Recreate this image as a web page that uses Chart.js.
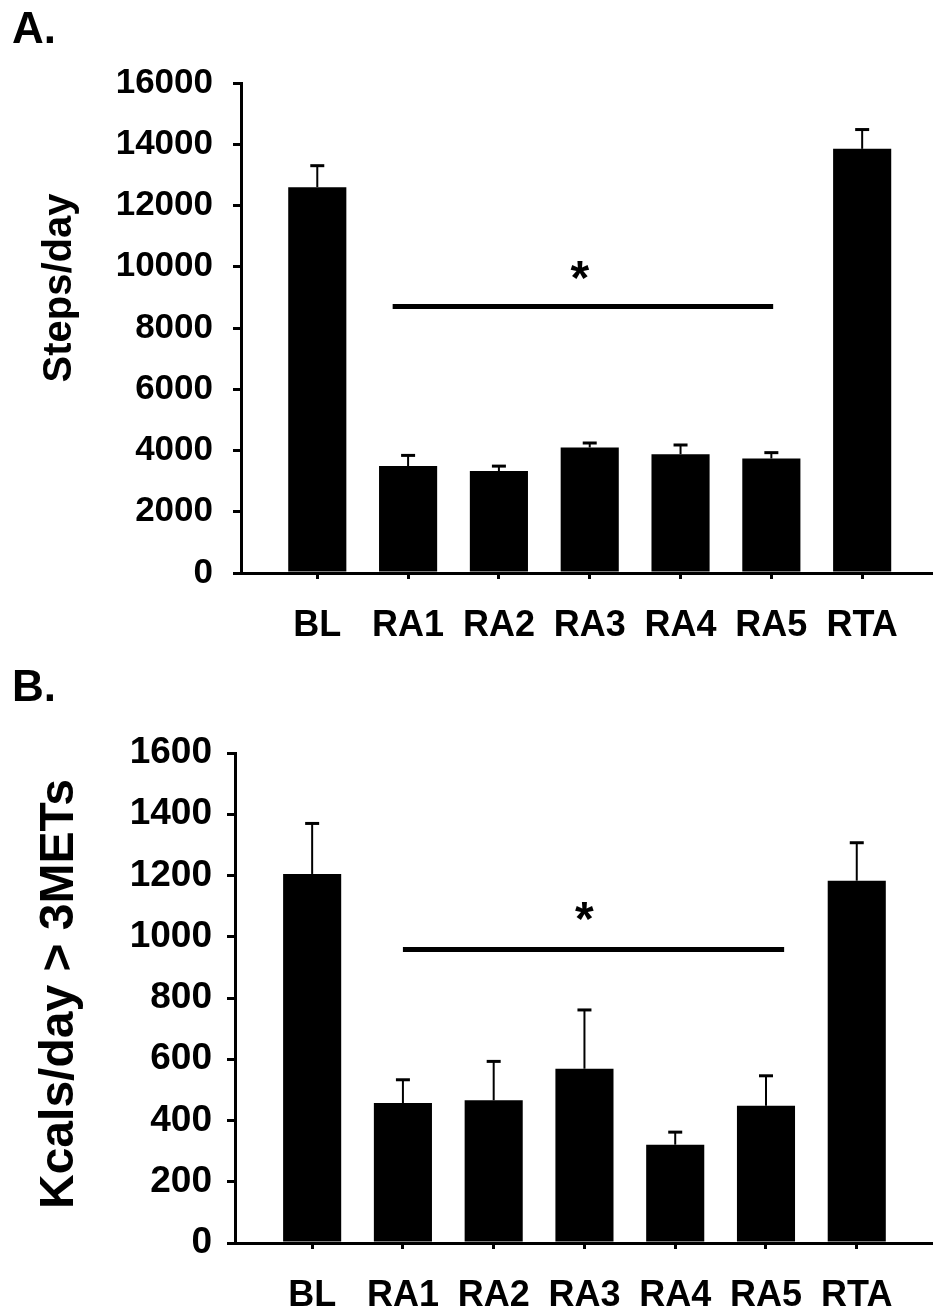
<!DOCTYPE html>
<html>
<head>
<meta charset="utf-8">
<script src="https://cdn.jsdelivr.net/npm/chart.js@4.4.1/dist/chart.umd.min.js"></script>
<style>
  html, body { margin: 0; padding: 0; background: #fff; }
  #wrap { position: relative; width: 933px; height: 1314px; }
  canvas { position: absolute; left: 0; }
  #chartA { top: 0; }
  #chartB { top: 660px; }
</style>
</head>
<body>
<div id="wrap">
  <canvas id="chartA" width="933" height="660"></canvas>
  <canvas id="chartB" width="933" height="654"></canvas>
</div>
<script>
// Categories shared by both panels
const categories = ['BL', 'RA1', 'RA2', 'RA3', 'RA4', 'RA5', 'RTA'];

// Panel A: steps per day (mean + SE)
const stepsMeans = [12600, 3490, 3330, 4100, 3880, 3740, 13850];
const stepsErrors = [700, 350, 160, 145, 300, 190, 630];
const stepsAxis = { max: 16000, step: 2000 };
const stepsSig = { from: 0.83, to: 5.02, level: 8700, starX: 2.89, starY: 10000 };

// Panel B: kcals/day above 3 METs (mean + SE)
const kcalMeans = [1205, 457, 466, 569, 321, 448, 1183];
const kcalErrors = [165, 76, 127, 192, 41, 98, 124];
const kcalAxis = { max: 1600, step: 200 };
const kcalSig = { from: 1.0, to: 5.2, level: 958, starX: 3.0, starY: 1096 };

const FONT = "'Liberation Sans', Arial, sans-serif";

function drawExtras(p) {
    return {
        id: 'extras_' + p.letter,
        afterDatasetsDraw(chart) {
            const ctx = chart.ctx;
            const xs = chart.scales.x, ys = chart.scales.y;
            const meta = chart.getDatasetMeta(0);
            ctx.save();
            ctx.strokeStyle = '#000';
            ctx.fillStyle = '#000';

            // error bars (upper only)
            p.errors.forEach((err, i) => {
                const bx = meta.data[i].x;
                const yTop = ys.getPixelForValue(p.means[i]);
                const yErr = ys.getPixelForValue(p.means[i] + err);
                ctx.lineWidth = 2;
                ctx.beginPath(); ctx.moveTo(bx, yTop); ctx.lineTo(bx, yErr); ctx.stroke();
                ctx.lineWidth = 3;
                ctx.beginPath(); ctx.moveTo(bx - 7, yErr); ctx.lineTo(bx + 7, yErr); ctx.stroke();
            });

            // significance line + asterisk
            const sy = ys.getPixelForValue(p.sig.level);
            ctx.lineWidth = 5;
            ctx.beginPath();
            ctx.moveTo(xs.getPixelForValue(p.sig.from), sy);
            ctx.lineTo(xs.getPixelForValue(p.sig.to), sy);
            ctx.stroke();
            ctx.font = 'bold 48px ' + FONT;
            ctx.textAlign = 'center';
            ctx.textBaseline = 'alphabetic';
            ctx.fillText('*', xs.getPixelForValue(p.sig.starX), ys.getPixelForValue(p.sig.starY) + 0.57 * 48);

            // rotated y title
            ctx.save();
            ctx.translate(p.titleX, p.titleY);
            ctx.rotate(-Math.PI / 2);
            ctx.font = 'bold ' + p.titleSize + 'px ' + FONT;
            ctx.textBaseline = 'middle';
            ctx.fillText(p.title, 0, 0);
            ctx.restore();

            // panel letter
            ctx.font = 'bold 44px ' + FONT;
            ctx.textAlign = 'left';
            ctx.textBaseline = 'alphabetic';
            ctx.fillText(p.letter + '.', 12, p.letterY);
            ctx.restore();
        }
    };
}

function renderPanel(canvasId, p) {
    const ctx = document.getElementById(canvasId).getContext('2d');
    return new Chart(ctx, {
        type: 'bar',
        data: {
            datasets: [{
                data: p.means.map((v, i) => ({ x: i, y: v })),
                backgroundColor: '#000',
                borderWidth: 0,
                barPercentage: 0.64,
                categoryPercentage: 1
            }]
        },
        options: {
            responsive: false,
            devicePixelRatio: 1,
            animation: false,
            layout: { padding: { top: p.padTop, left: 0, right: 0, bottom: 0 } },
            plugins: { legend: { display: false }, tooltip: { enabled: false } },
            scales: {
                x: {
                    type: 'linear',
                    min: p.xMin,
                    max: p.xMax,
                    offset: false,
                    afterBuildTicks: axis => { axis.ticks = categories.map((_, i) => ({ value: i })); },
                    afterFit: axis => { axis.height = p.xHeight; },
                    grid: { offset: false, drawOnChartArea: false, drawTicks: true, tickLength: 6, lineWidth: 3, color: '#000' },
                    border: { color: '#000', width: 3 },
                    ticks: {
                        autoSkip: false,
                        maxRotation: 0,
                        padding: p.xPad,
                        color: '#000',
                        font: { family: FONT, size: 36, weight: 'bold' },
                        callback: v => categories[v] ?? ''
                    }
                },
                y: {
                    min: 0,
                    max: p.axis.max,
                    afterFit: axis => { axis.width = p.yWidth; },
                    grid: { drawOnChartArea: false, drawTicks: true, tickLength: 8, lineWidth: 3, color: '#000' },
                    border: { color: '#000', width: 3 },
                    ticks: {
                        stepSize: p.axis.step,
                        padding: p.yPad,
                        color: '#000',
                        font: { family: FONT, size: p.tickSize, weight: 'bold' },
                        callback: v => String(v)
                    }
                }
            }
        },
        plugins: [drawExtras(p)]
    });
}

renderPanel('chartA', {
    letter: 'A', letterY: 43,
    means: stepsMeans, errors: stepsErrors, axis: stepsAxis, sig: stepsSig,
    title: 'Steps/day', titleSize: 40, titleX: 60, titleY: 288,
    tickSize: 35, yPad: 20, padTop: 83, yWidth: 241, xHeight: 87, xPad: 25,
    xMin: -0.84, xMax: 6.78
});

renderPanel('chartB', {
    letter: 'B', letterY: 41,
    means: kcalMeans, errors: kcalErrors, axis: kcalAxis, sig: kcalSig,
    title: 'Kcals/day > 3METs', titleSize: 48, titleX: 60, titleY: 334,
    tickSize: 37, yPad: 15, padTop: 93, yWidth: 235, xHeight: 71, xPad: 25,
    xMin: -0.85, xMax: 6.84
});
</script>
</body>
</html>
